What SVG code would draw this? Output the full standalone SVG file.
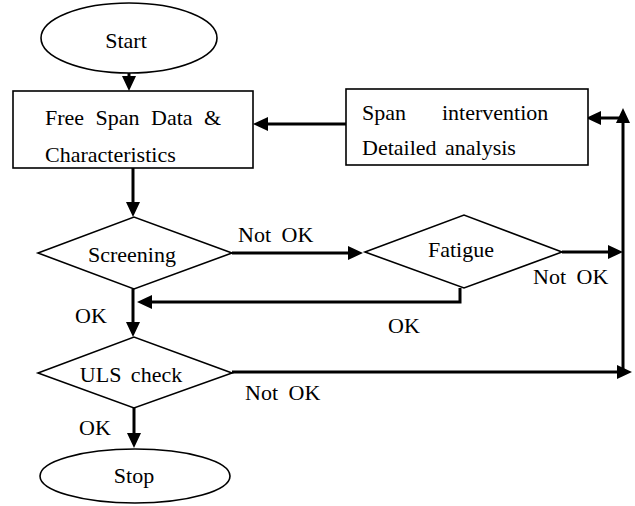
<svg xmlns="http://www.w3.org/2000/svg" width="635" height="506" viewBox="0 0 635 506">
<style>
.shape{fill:#fff;stroke:#000;stroke-width:1.6}
.t{font-family:"Liberation Serif","Times New Roman",serif;font-size:22px;fill:#000}
.c{text-anchor:middle}
.conn{fill:none;stroke:#000;stroke-width:3;marker-end:url(#arr)}
.plain{fill:none;stroke:#000;stroke-width:3}
</style>
<defs>
<marker id="arr" markerUnits="userSpaceOnUse" markerWidth="15" markerHeight="14" refX="5" refY="7" orient="auto">
<path d="M0,0 L15,7 L0,14 z" fill="#000"/>
</marker>
</defs>
<rect width="635" height="506" fill="#fff"/>
<g id="connectors">
<path class="conn" d="M129,73 V81"/>
<path class="conn" d="M133,168 V207"/>
<path class="conn" d="M346,124 H263"/>
<path class="conn" d="M232,253 H353"/>
<path class="conn" d="M562,252 H613"/>
<path class="conn" d="M460,288 V302 H147"/>
<path class="conn" d="M133,289 V327"/>
<path class="conn" d="M232,372 H622"/>
<path class="conn" d="M623,372 V118"/>
<path class="conn" d="M623,118 H596"/>
<path class="conn" d="M134,408 V438"/>
<text class="t" x="238" y="242" word-spacing="5">Not OK</text>
<text class="t" x="533" y="284" word-spacing="5">Not OK</text>
<text class="t" x="388" y="333">OK</text>
<text class="t" x="75" y="323">OK</text>
<text class="t" x="245" y="400" word-spacing="5">Not OK</text>
<text class="t" x="79" y="435">OK</text>
</g>
<g id="start">
<ellipse class="shape" cx="129" cy="38" rx="88" ry="35"/>
<text class="t c" x="126" y="48">Start</text>
</g>
<g id="data">
<rect class="shape" x="13" y="91" width="240" height="77"/>
<text class="t" x="45" y="125" word-spacing="6">Free Span Data &amp;</text>
<text class="t" x="45" y="162">Characteristics</text>
</g>
<g id="intervention">
<rect class="shape" x="346" y="89" width="242" height="76"/>
<text class="t" x="362" y="120">Span<tspan x="442">intervention</tspan></text>
<text class="t" x="362" y="155" word-spacing="3">Detailed analysis</text>
</g>
<g id="screening">
<polygon class="shape" points="38,253 134,217 232,253 134,289"/>
<text class="t c" x="132" y="262">Screening</text>
</g>
<g id="fatigue">
<polygon class="shape" points="365,252 464,215 562,252 464,288"/>
<text class="t c" x="461" y="257">Fatigue</text>
</g>
<g id="uls">
<polygon class="shape" points="38,373 134,337 232,373 134,408"/>
<text class="t c" x="131" y="382" word-spacing="4">ULS check</text>
</g>
<g id="stop">
<ellipse class="shape" cx="135" cy="476" rx="95" ry="27"/>
<text class="t c" x="134" y="483">Stop</text>
</g>
</svg>
